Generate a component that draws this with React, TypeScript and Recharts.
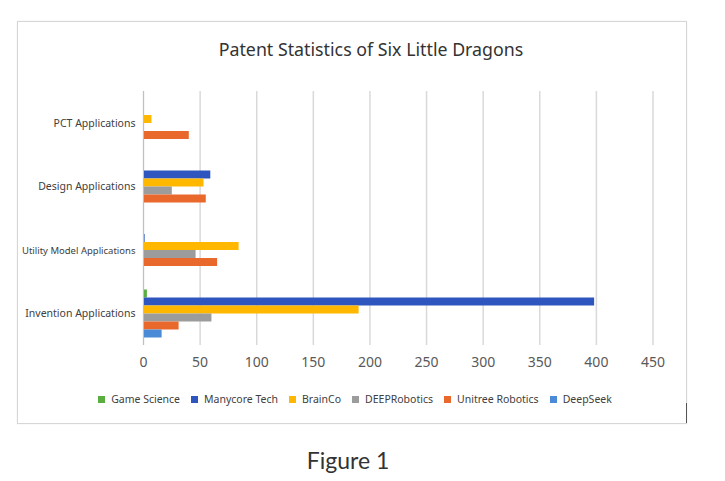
import React from 'react';
import { BarChart, Bar, XAxis, YAxis, CartesianGrid, Legend } from 'recharts';

const categories = ['PCT Applications', 'Design Applications', 'Utility Model Applications', 'Invention Applications'];
const gameScience = [0, 0, 0, 3];
const manycoreTech = [0, 59, 1, 398];
const brainCo = [7, 53, 84, 190];
const deepRobotics = [0, 25, 46, 60];
const unitreeRobotics = [40, 55, 65, 31];
const deepSeek = [0, 0, 0, 16];
const xTicks = [0, 50, 100, 150, 200, 250, 300, 350, 400, 450];

const seriesNames = ['Game Science', 'Manycore Tech', 'BrainCo', 'DEEPRobotics', 'Unitree Robotics', 'DeepSeek'];
const seriesColors = ['#5aae3f', '#2f56be', '#ffb700', '#9c9c9c', '#e8692b', '#4a8ad6'];
const seriesValues = [gameScience, manycoreTech, brainCo, deepRobotics, unitreeRobotics, deepSeek];

const data = categories.map((name, i) => {
  const row: Record<string, any> = { name };
  seriesNames.forEach((s, j) => {
    row[s] = seriesValues[j][i];
  });
  return row;
});

const FONT = '"Noto Sans", "Open Sans", sans-serif';

const YTick = (props: any) => {
  const { x, y, payload } = props;
  const long = String(payload.value).length > 22;
  return (
    <text x={x} y={y} dy={4} textAnchor="end" fontSize={long ? 9.5 : 10.5} fill="#404040" fontFamily={FONT}>
      {payload.value}
    </text>
  );
};

const renderLegend = () => {
  return (
    <div
      style={{
        display: 'flex',
        justifyContent: 'center',
        paddingTop: 17,
        paddingLeft: 50,
        fontSize: 10.5,
        color: '#404040',
        fontFamily: FONT,
      }}
    >
      {seriesNames.map((name, j) => (
        <span key={name} style={{ display: 'flex', alignItems: 'center', marginRight: 11 }}>
          <span style={{ width: 7, height: 7, background: seriesColors[j], marginRight: 6, display: 'inline-block' }} />
          {name}
        </span>
      ))}
    </div>
  );
};

export default function App() {
  return (
    <div style={{ position: 'absolute', left: 0, top: 0, width: 725, height: 481, background: '#fff' }}>
      <div
        style={{
          position: 'absolute',
          left: 17,
          top: 21,
          width: 668,
          height: 401,
          border: '1.5px solid #d6d6d6',
          boxShadow: '0 0 1px #e0e0e0',
        }}
      >
        <div
          style={{
            position: 'absolute',
            left: 0,
            top: 15,
            width: 706,
            textAlign: 'center',
            fontFamily: FONT,
            fontSize: 17.8,
            color: '#333',
          }}
        >
          Patent Statistics of Six Little Dragons
        </div>
        <BarChart
          width={668}
          height={401}
          data={data}
          layout="vertical"
          margin={{ top: 69, right: 33, left: 0, bottom: 0 }}
          barGap={0}
          barSize={8}
        >
          <CartesianGrid horizontal={false} stroke="#d9d9d9" strokeWidth={1.5} />
          <XAxis
            type="number"
            domain={[0, 450]}
            ticks={xTicks}
            axisLine={false}
            tickLine={false}
            tickMargin={6}
            height={30}
            tick={{ fill: '#595959', fontSize: 14, fontFamily: FONT }}
            interval={0}
          />
          <YAxis
            type="category"
            dataKey="name"
            width={125.5}
            axisLine={{ stroke: '#c0c0c0' }}
            tickLine={false}
            tick={<YTick />}
            interval={0}
          />
          <Legend verticalAlign="bottom" height={48} content={renderLegend} />
          {seriesNames.map((s, j) => (
            <Bar key={s} dataKey={s} fill={seriesColors[j]} isAnimationActive={false} />
          ))}
        </BarChart>
        <div style={{ position: 'absolute', left: 668, top: 381, width: 1, height: 20, background: '#555' }} />
      </div>
      <div
        style={{
          position: 'absolute',
          left: 0,
          top: 446,
          width: 696,
          textAlign: 'center',
          fontFamily: 'Lato, "Open Sans", sans-serif',
          fontSize: 23,
          color: '#333',
        }}
      >
        Figure 1
      </div>
    </div>
  );
}
